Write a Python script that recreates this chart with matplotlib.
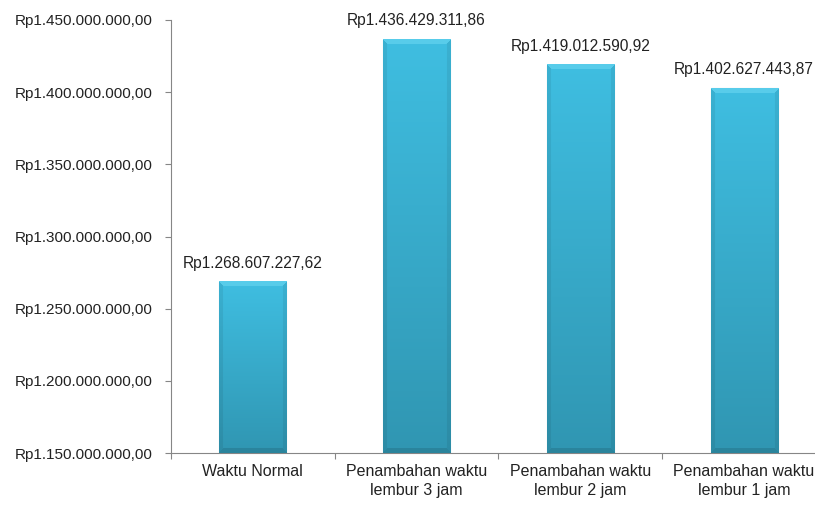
import numpy as np
import matplotlib.pyplot as plt
from matplotlib.colors import to_rgb
from matplotlib.ticker import FuncFormatter

categories = ["Waktu Normal", "Penambahan waktu\nlembur 3 jam",
              "Penambahan waktu\nlembur 2 jam", "Penambahan waktu\nlembur 1 jam"]
values = [1268607227.62, 1436429311.86, 1419012590.92, 1402627443.87]
y_ticks = [1.15e9, 1.20e9, 1.25e9, 1.30e9, 1.35e9, 1.40e9, 1.45e9]


def rupiah(v, pos=None):
    s = f"{v:,.2f}"
    s = s.replace(",", "X").replace(".", ",").replace("X", ".")
    return "Rp" + s


def bevel_image(nx, ny):
    # vertical gradient with bevelled edges, like an Excel 3D bar
    top = np.array(to_rgb("#3fbee1"))
    bot = np.array(to_rgb("#3096b2"))
    t = np.linspace(0, 1, ny).reshape(-1, 1, 1)  # 0 = bottom
    img = bot + (top - bot) * t
    img = np.repeat(img, nx, axis=1)
    bw = 5
    yy, xx = np.mgrid[0:ny, 0:nx]
    d_top = ny - 1 - yy
    d_bot = yy
    d_side = np.minimum(xx, nx - 1 - xx)
    top_band = (d_top < bw) & (d_top <= d_side)
    bot_band = (d_bot < bw) & (d_bot <= d_side) & ~top_band
    side_band = (d_side < 4) & ~top_band & ~bot_band
    img[top_band] = img[top_band] * 0.55 + np.array(to_rgb("#78def6")) * 0.45
    img[bot_band] = img[bot_band] * 0.88
    img[side_band] = img[side_band] * 0.93
    return img


plt.rcParams['font.family'] = ['Liberation Sans', 'DejaVu Sans']

fig = plt.figure(figsize=(8.15, 5.18), dpi=100)
ax = fig.add_axes([171 / 815, 1 - 453 / 518, 655 / 815, 433 / 518])

x = np.arange(len(categories))
bars = ax.bar(x, values, width=0.41, color="#36a9cc", edgecolor="#c8c8c8",
              linewidth=0.8, zorder=2)

for b in bars:
    x0, w, h = b.get_x(), b.get_width(), b.get_height()
    y0 = b.get_y()
    ny = max(int((h - (1.15e9 - y0)) / 0.3e9 * 433), 10)
    ax.imshow(bevel_image(67, ny), extent=(x0, x0 + w, 1.15e9, y0 + h),
              origin="lower", aspect="auto", zorder=3, interpolation="bilinear")
    ax.annotate(rupiah(b.get_height()), (x0 + w / 2, y0 + h),
                xytext=(0, 8), textcoords="offset points",
                ha="center", va="bottom", fontsize=11.2, color="#222222")

ax.set_xlim(-0.5, len(categories) - 0.5)
ax.set_ylim(1.15e9, 1.45e9)

ax.set_xticks(np.arange(len(categories) + 1) - 0.5, minor=False)
ax.set_xticklabels([])
ax.set_xticks(x, minor=True)
ax.set_xticklabels(categories, minor=True, fontsize=11.5, color="#222222",
                   linespacing=1.35)
ax.tick_params(axis="x", which="minor", length=0, pad=8)
ax.tick_params(axis="x", which="major", length=4.5, color="#868686", direction="out")

ax.set_yticks(y_ticks)
ax.yaxis.set_major_formatter(FuncFormatter(rupiah))
ax.tick_params(axis="y", length=4.5, color="#868686", labelsize=11,
               labelcolor="#222222", pad=9)

for s in ["top", "right"]:
    ax.spines[s].set_visible(False)
for s in ["left", "bottom"]:
    ax.spines[s].set_color("#868686")

fig.savefig("out.png", dpi=100)
